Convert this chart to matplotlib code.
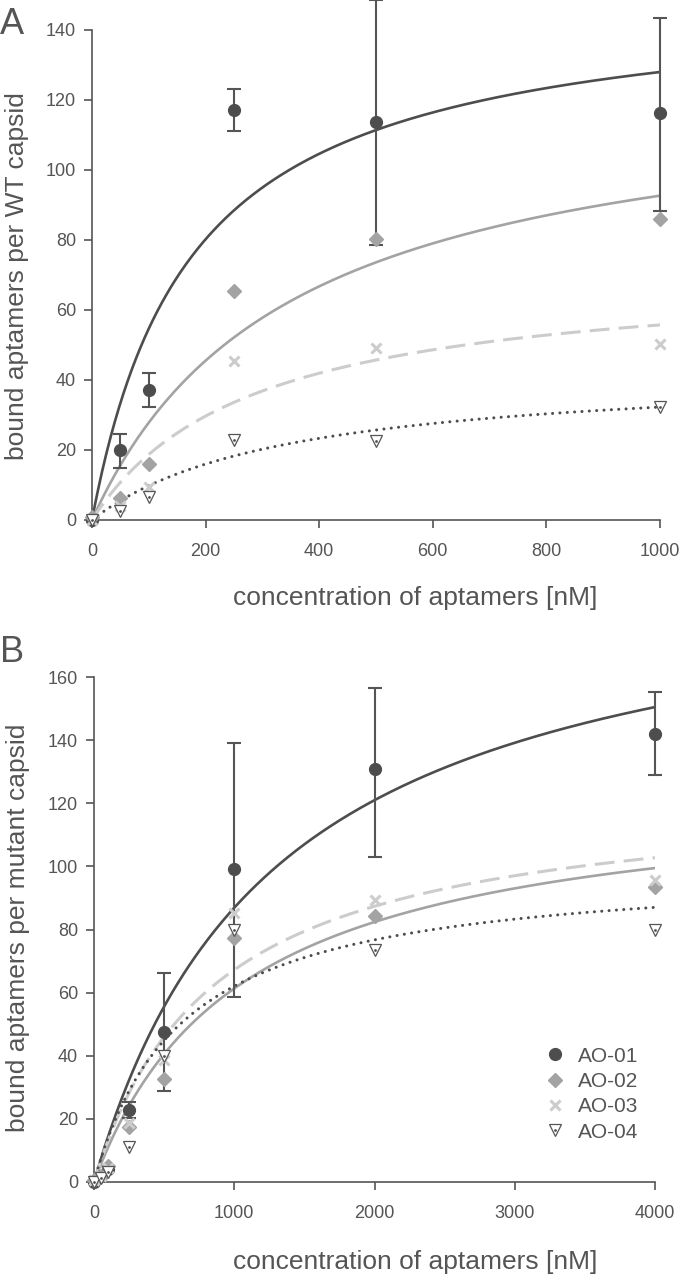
import numpy as np
import matplotlib
matplotlib.use('Agg')
import matplotlib.pyplot as plt
from matplotlib.legend_handler import HandlerTuple

plt.rcParams['font.family'] = ['Liberation Sans', 'DejaVu Sans']

# ---- data ----
names = ['AO-01', 'AO-02', 'AO-03', 'AO-04']

# panel A (WT capsid)
conc_a = [0, 50, 100, 250, 500, 1000]
ao1_a = [0, 20.0, 37.1, 117.1, 113.7, 116.3]
ao1_a_lo = [0, 14.9, 32.3, 111.1, 78.6, 88.3]
ao1_a_hi = [0, 24.6, 42.0, 123.1, 148.6, 143.4]
ao2_a = [1.0, 6.3, 16.0, 65.4, 80.3, 85.9]
ao3_a = [0, 4.0, 9.5, 45.4, 49.1, 50.3]
ao4_a = [0, 2.6, 6.6, 22.9, 22.6, 32.3]
# fitted one-site binding curves: Bmax, Kd
bmax_a = [150.4, 125.0, 71.4, 43.3]
kd_a = [175, 349, 281, 342]

# panel B (mutant capsid)
conc_b = [0, 50, 100, 250, 500, 1000, 2000, 4000]
ao1_b = [0, 2.0, 4.0, 22.8, 47.5, 99.2, 130.9, 141.9]
ao1_b_lo = [0, 2.0, 4.0, 20.3, 28.8, 58.6, 103.0, 129.0]
ao1_b_hi = [0, 2.0, 4.0, 25.3, 66.2, 139.1, 156.5, 155.3]
ao2_b = [0.5, 2.0, 5.0, 17.5, 32.6, 77.3, 84.3, 93.5]
ao3_b = [0.5, 2.0, 4.5, 18.7, 38.6, 85.2, 89.4, 95.7]
ao4_b = [0, 1.3, 3.2, 11.1, 39.9, 79.9, 73.5, 79.9]
bmax_b = [199.0, 125.5, 124.7, 100.5]
kd_b = [1290, 1047, 855, 620]

# ---- styles ----
dark = '#4d4d4d'
mid = '#a3a3a3'
light = '#cccccc'
axc = '#555555'
txt = '#555555'

fig = plt.figure(figsize=(6.8, 12.78), dpi=100)
axA = fig.add_axes([92/680, 1 - 520/1278, 568/680, 490/1278])
axB = fig.add_axes([94/680, 1 - 1182/1278, 561/680, 505/1278])


def draw(ax, conc, ys, lo, hi, bmax, kd, xmax):
    xs = np.linspace(0, xmax, 400)
    curve_styles = [
        dict(color=dark, lw=1.9, ls='-'),
        dict(color=mid, lw=1.9, ls='-'),
        dict(color=light, lw=2.2, ls=(0, (6.5, 3))),
        dict(color=dark, lw=2.2, ls=(0, (0.01, 2.4)), dash_capstyle='round'),
    ]
    for b, k, st in zip(bmax, kd, curve_styles):
        ax.plot(xs, b * xs / (k + xs), zorder=2, **st)

    conc = np.array(conc)
    y1, y2, y3, y4 = [np.array(v) for v in ys]
    lo = np.array(lo)
    hi = np.array(hi)
    m = hi > lo
    ax.errorbar(conc[m], y1[m], yerr=[y1[m] - lo[m], hi[m] - y1[m]], fmt='none',
                ecolor=axc, elinewidth=1.5, capsize=5, capthick=1.5,
                zorder=3, clip_on=False)
    h1, = ax.plot(conc, y1, 'o', color=dark, ms=8.5, zorder=4, clip_on=False)
    h2, = ax.plot(conc, y2, 'D', color=mid, ms=7, zorder=4, clip_on=False)
    h3, = ax.plot(conc, y3, 'x', color=light, ms=7.5, mew=2.2, zorder=4, clip_on=False)
    h4a, = ax.plot(conc, y4, 'v', mfc='white', mec=axc, mew=0.9, ms=8.5,
                   zorder=5, clip_on=False)
    h4b, = ax.plot(conc, y4, '.', color=axc, ms=2, zorder=6, clip_on=False)
    return [h1, h2, h3, (h4a, h4b)]


def style(ax, xmax, ymax, xstep, ystep):
    ax.set_xlim(0, xmax)
    ax.set_ylim(0, ymax)
    ax.set_xticks(np.arange(0, xmax + 1, xstep))
    ax.set_yticks(np.arange(0, ymax + 1, ystep))
    for s in ['top', 'right']:
        ax.spines[s].set_visible(False)
    for s in ['left', 'bottom']:
        ax.spines[s].set_color(axc)
        ax.spines[s].set_linewidth(1.2)
    ax.tick_params(axis='both', colors=axc, labelcolor=txt, labelsize=13,
                   length=5.5, width=1.2)
    ax.tick_params(axis='x', pad=11)
    ax.tick_params(axis='y', pad=6)


draw(axA, conc_a, [ao1_a, ao2_a, ao3_a, ao4_a], ao1_a_lo, ao1_a_hi, bmax_a, kd_a, 1000)
style(axA, 1000, 140, 200, 20)
handles = draw(axB, conc_b, [ao1_b, ao2_b, ao3_b, ao4_b], ao1_b_lo, ao1_b_hi, bmax_b, kd_b, 4000)
style(axB, 4000, 160, 1000, 20)

fs_lab = 19
fig.text(17/680, 1 - 276/1278, 'bound aptamers per WT capsid', fontsize=fs_lab,
         color=txt, ha='center', va='center', rotation=90)
fig.text(18/680, 1 - 928/1278, 'bound aptamers per mutant capsid', fontsize=fs_lab,
         color=txt, ha='center', va='center', rotation=90)

fig.text(415/680, 1 - 598/1278, 'concentration of aptamers [nM]', fontsize=fs_lab,
         color=txt, ha='center', va='center')
fig.text(415/680, 1 - 1262/1278, 'concentration of aptamers [nM]', fontsize=fs_lab,
         color=txt, ha='center', va='center')

fig.text(0.0, 1 - 24/1278, 'A', fontsize=26, color=txt, ha='left', va='center')
fig.text(0.0, 1 - 652/1278, 'B', fontsize=26, color=txt, ha='left', va='center')

leg = axB.legend(handles, names, loc='upper left', frameon=False,
                 bbox_to_anchor=(524/680, 1 - 1028/1278), bbox_transform=fig.transFigure,
                 fontsize=15, handlelength=1.2, handletextpad=0.5, labelspacing=0.3,
                 handler_map={tuple: HandlerTuple(ndivide=1, pad=0)})
for t in leg.get_texts():
    t.set_color(txt)

fig.savefig('out.png', dpi=100)
